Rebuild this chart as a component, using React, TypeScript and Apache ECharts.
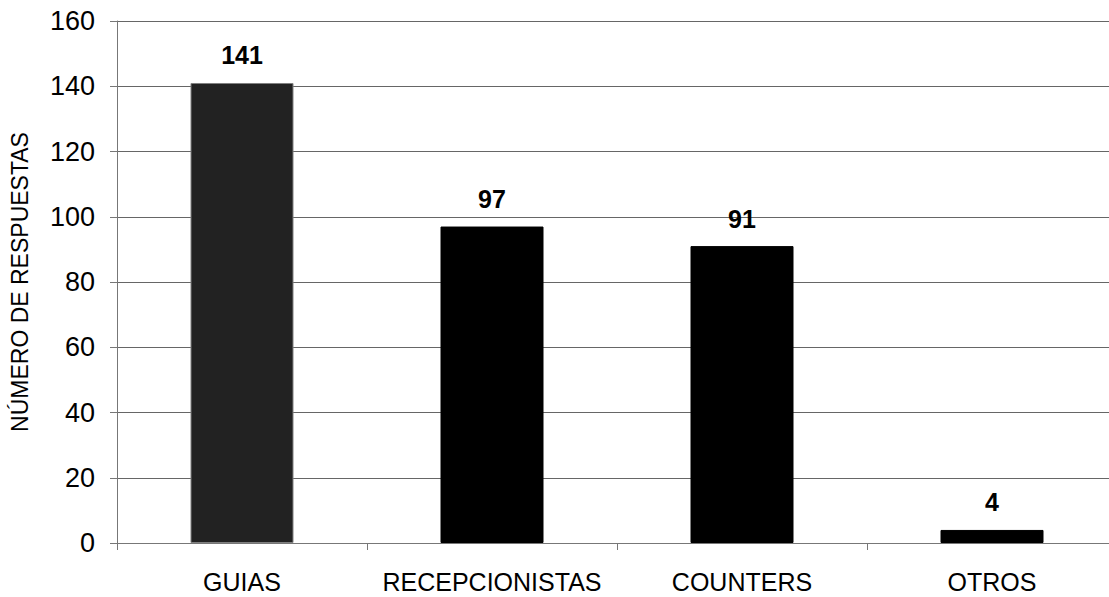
import React, { useEffect, useRef } from "react";
import * as echarts from "echarts";

const categories = ["GUIAS", "RECEPCIONISTAS", "COUNTERS", "OTROS"];
const values = [141, 97, 91, 4];
const barColors = ["#222222", "#000000", "#000000", "#000000"];
const borderColors = ["#808080", "#000000", "#000000", "#000000"];
const yAxisName = "NÚMERO DE RESPUESTAS";

export default function App() {
  const ref = useRef<HTMLDivElement>(null);
  useEffect(() => {
    if (!ref.current) return;
    const chart = echarts.init(ref.current, null, { renderer: "svg" });
    chart.setOption({
      animation: false,
      backgroundColor: "#ffffff",
      textStyle: { fontFamily: "Liberation Sans, Arial, sans-serif" },
      grid: { left: 113, right: 0, top: 21, bottom: 54, containLabel: false },
      xAxis: {
        type: "category",
        data: categories,
        axisLine: { show: true, lineStyle: { color: "#777777", width: 1 } },
        axisTick: { show: true, alignWithLabel: false, length: 7, lineStyle: { color: "#777777" } },
        axisLabel: { color: "#000000", fontSize: 25, margin: 26, interval: 0 },
        splitLine: { show: false },
      },
      yAxis: {
        type: "value",
        min: 0,
        max: 160,
        interval: 20,
        name: yAxisName,
        nameLocation: "middle",
        nameGap: 86,
        nameTextStyle: { color: "#000000", fontSize: 23 },
        axisLine: { show: true, lineStyle: { color: "#777777", width: 1 } },
        axisTick: { show: true, length: 7, lineStyle: { color: "#777777" } },
        axisLabel: { color: "#000000", fontSize: 27, margin: 22 },
        splitLine: { show: true, lineStyle: { color: "#666666", width: 1 } },
      },
      series: [
        {
          type: "bar",
          barWidth: 103,
          data: values.map((v, i) => ({
            value: v,
            itemStyle: { color: barColors[i], borderColor: borderColors[i], borderWidth: 1 },
          })),
          label: {
            show: true,
            position: "top",
            distance: 15,
            color: "#000000",
            fontSize: 25,
            fontWeight: "bold",
          },
        },
      ],
    });
    return () => chart.dispose();
  }, []);
  return (
    <div
      ref={ref}
      style={{ position: "fixed", left: 0, top: 0, width: 1117, height: 597 }}
    />
  );
}
